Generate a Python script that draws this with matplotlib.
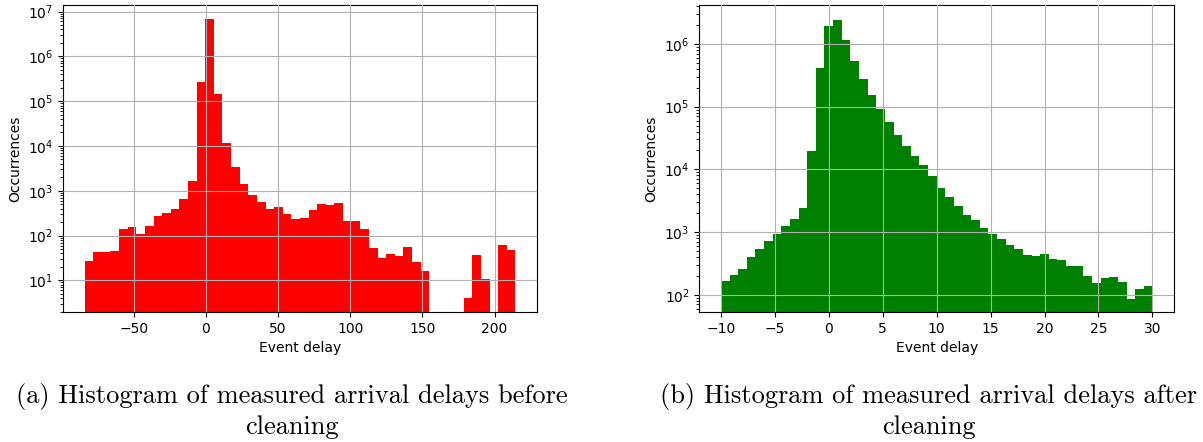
import matplotlib
matplotlib.use("Agg")
import matplotlib.pyplot as plt
import numpy as np

# (a) raw arrival delays: 50 bins between min and max delay
raw_min, raw_max = -84, 214.5
raw_counts = [27, 43, 43, 46, 139, 157, 108, 165, 276, 321,
              395, 659, 1660, 266000, 6730000, 144000, 11650, 3400, 1420, 809,
              565, 395, 437, 305, 236, 249, 375, 510, 484, 537,
              213, 213, 142, 53, 32, 39, 35, 56, 26, 16,
              0, 0, 0, 0, 4.1, 37, 11, 0, 62, 48]

# (b) cleaned arrival delays: 50 bins between -10 and 30
clean_min, clean_max = -10, 30
clean_counts = [167, 208, 259, 393, 546, 732, 935, 1254, 1620, 2425,
                19600, 410000, 1910000, 2440000, 1140000, 530000, 274000, 152000, 91000, 56600,
                35200, 23800, 16500, 11860, 7930, 5040, 3630, 2610, 1880, 1560,
                1165, 935, 760, 625, 540, 433, 418, 450, 374, 361,
                290, 290, 200, 155, 187, 193, 161, 86, 125, 139]

caption_a = ["(a) Histogram of measured arrival delays before", "cleaning"]
caption_b = ["(b) Histogram of measured arrival delays after", "cleaning"]

fig = plt.figure(figsize=(12.03, 4.42), dpi=100)
ax1 = fig.add_axes([0.0524, 0.2941, 0.394, 0.6946])
ax2 = fig.add_axes([0.5813, 0.2941, 0.3946, 0.6946])

edges_a = np.linspace(raw_min, raw_max, len(raw_counts) + 1)
ax1.hist(edges_a[:-1], bins=edges_a, weights=raw_counts, color="red", log=True)
ax1.set_ylim(1.97, 1.4e7)
ax1.set_xticks([-50, 0, 50, 100, 150, 200])

edges_b = np.linspace(clean_min, clean_max, len(clean_counts) + 1)
ax2.hist(edges_b[:-1], bins=edges_b, weights=clean_counts, color="green", log=True)
ax2.set_ylim(53, 4.18e6)
ax2.set_xticks([-10, -5, 0, 5, 10, 15, 20, 25, 30])

for ax in (ax1, ax2):
    ax.grid(True)
    ax.set_axisbelow(False)
    ax.set_xlabel("Event delay")
    ax.set_ylabel("Occurrences")
    ax.tick_params(labelsize=10)

for cx, lines in ((292, caption_a), (929, caption_b)):
    fig.text(cx / 1203, 1 - 403 / 442, lines[0], ha="center", va="baseline",
             family="cmr10", fontsize=19)
    fig.text(cx / 1203, 1 - 434 / 442, lines[1], ha="center", va="baseline",
             family="cmr10", fontsize=19)

fig.savefig("out.png", dpi=100)
